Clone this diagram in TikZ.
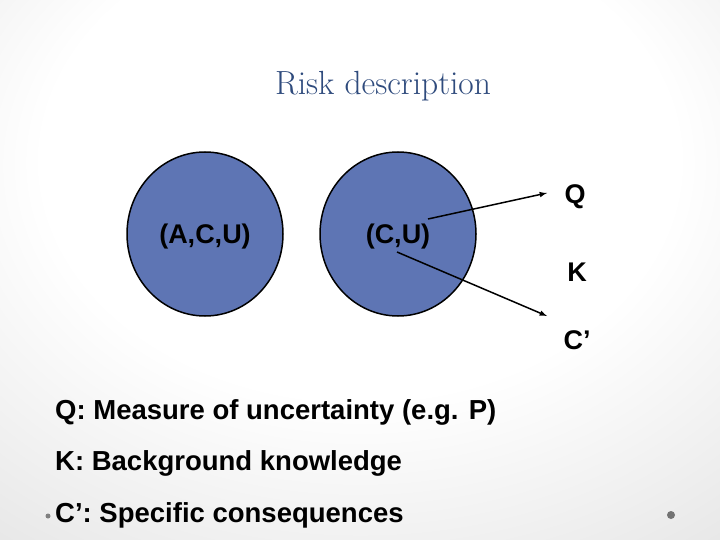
\documentclass[tikz,border=0pt]{standalone}
\usepackage{fontspec}
\newfontfamily\arialfont{Liberation Sans}
\usetikzlibrary{arrows}
\usetikzlibrary{shapes.geometric}
\definecolor{cblue}{RGB}{94,117,180}
\definecolor{tblue}{RGB}{47,75,125}
\definecolor{bggray}{RGB}{210,210,210}
\pgfdeclareradialshading{slidebg}{\pgfpoint{0bp}{14bp}}{color(0bp)=(white); color(22bp)=(white); color(58bp)=(bggray); color(80bp)=(bggray)}

\begin{document}
\begin{tikzpicture}[x=1pt,y=-1pt,
  blob/.style={ellipse, draw=black, line width=1.5pt, fill=cblue, minimum width=156pt, minimum height=164pt},
  lbl/.style={font=\arialfont\bfseries\fontsize{27}{30}\selectfont, inner sep=0pt},
  line/.style={anchor=west, font=\arialfont\bfseries\fontsize{27.5}{30}\selectfont, inner sep=0pt}]

% slide background
\shade[shading=slidebg] (0,0) rectangle (720,540);
\useasboundingbox (0,0) rectangle (720,540);

\node[font=\fontsize{33.5}{38}\selectfont, text=tblue] (title) at (383,86) {Risk description};

% the two sets
\node[blob] (acu) at (205,234) {};
\node[blob] (cuset) at (398,234) {};
\node[lbl] (acutext) at (205,237) {(A,C,U)};
\node[lbl] (cu) at (398,237) {(C,U)};

\node[lbl] (Q) at (575,197) {Q};
\node[lbl] (K) at (577,272) {K};
\node[lbl] (Cp) at (577,340) {C’};

\coordinate (qfrom) at (428,219);
\coordinate (qtip) at (547,193);
\coordinate (cfrom) at (397,252);
\coordinate (ctip) at (547,316);
\draw[-latex, line width=1.5pt] (qfrom) -- (qtip);
\draw[-latex, line width=1.5pt] (cfrom) -- (ctip);

% legend
\node[line] (legq) at (55,412) {Q: Measure of uncertainty (e.g. P)};
\node[line] (legk) at (55,463) {K: Background knowledge};
\node[line] (legc) at (55,515) {C’: Specific consequences};
\fill[gray] (48,516) circle (2.5);
\fill[gray!90!black] (671,515) circle (4);

\end{tikzpicture}
\end{document}
